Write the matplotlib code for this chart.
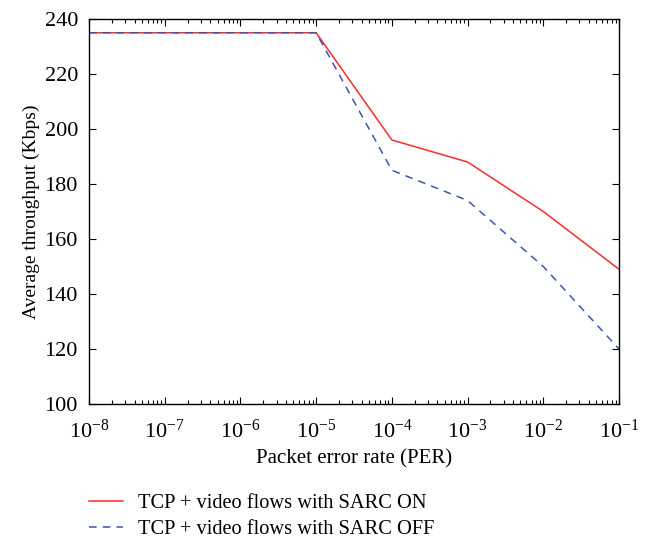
import matplotlib
matplotlib.use("Agg")
import matplotlib.pyplot as plt
from matplotlib.ticker import LogLocator, NullFormatter, MultipleLocator, LogFormatterMathtext

plt.rcParams['font.family'] = ['Liberation Serif', 'DejaVu Serif']
plt.rcParams['mathtext.fontset'] = 'custom'
plt.rcParams['mathtext.rm'] = 'Liberation Serif'
plt.rcParams['mathtext.it'] = 'Liberation Serif:italic'

per = [1e-8, 1e-7, 1e-6, 1e-5, 1e-4, 1e-3, 1e-2, 1e-1]
sarc_on = [235, 235, 235, 235, 196, 188, 170, 149]
sarc_off = [235, 235, 235, 235, 185, 174, 150, 120]
labels = ["TCP + video flows with SARC ON", "TCP + video flows with SARC OFF"]

fig = plt.figure(figsize=(6.49, 5.38), dpi=100)
ax = fig.add_axes([89/649, 1-404/538, (619-89)/649, (404-19)/538])

ax.plot(per, sarc_on, color='#ff2a2a', lw=1.1, label=labels[0])
ax.plot(per, sarc_off, color='#3a55b4', lw=1.1, ls=(0, (5, 4)), label=labels[1])

ax.set_xscale('log')
ax.set_xlim(1e-8, 1e-1)
ax.set_ylim(100, 240)
ax.yaxis.set_major_locator(MultipleLocator(20))
ax.set_xticks(per)
ax.xaxis.set_major_formatter(LogFormatterMathtext())
ax.xaxis.set_minor_locator(LogLocator(base=10, subs=range(2, 10), numticks=20))
ax.xaxis.set_minor_formatter(NullFormatter())
ax.tick_params(which='both', direction='in', top=True, right=True, labelsize=16)
ax.tick_params(which='major', length=5, width=0.8)
ax.tick_params(which='minor', length=3, width=0.8)
ax.tick_params(axis='x', pad=11)
ax.tick_params(axis='y', pad=8)
for s in ax.spines.values():
    s.set_linewidth(1.0)

ax.set_xlabel("Packet error rate (PER)", fontsize=15, labelpad=5)
ax.set_ylabel("Average throughput (Kbps)", fontsize=14, labelpad=3)

fig.legend(loc='upper left', bbox_to_anchor=(81/649, 1-486/538), frameon=False,
           fontsize=14.7, handlelength=1.67, handletextpad=0.73, labelspacing=0.3,
           borderaxespad=0)

fig.savefig("out.png", dpi=100)
